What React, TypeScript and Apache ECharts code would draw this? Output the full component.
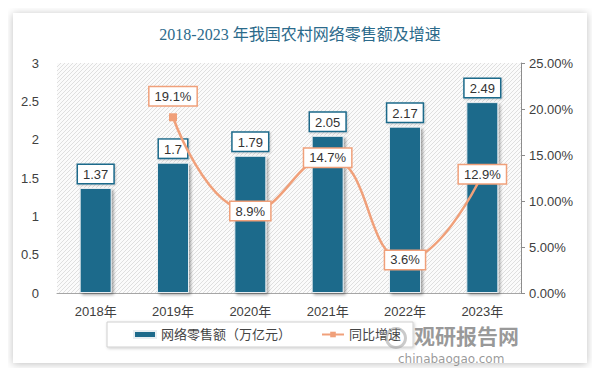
import React, { useEffect, useRef } from "react";
import * as echarts from "echarts";

const categories = ["2018年", "2019年", "2020年", "2021年", "2022年", "2023年"];
const salesValues = [1.37, 1.7, 1.79, 2.05, 2.17, 2.49];
const growthValues: (number | null)[] = [null, 19.1, 8.9, 14.7, 3.6, 12.9];
const leftTicks = { min: 0, max: 3, interval: 0.5 };
const rightTicks = { min: 0, max: 25, interval: 5 };

const BAR = "#1d6a8b";
const LINE = "#f0a07a";
const FONT = "'Liberation Sans', 'Noto Sans CJK SC', sans-serif";

const hatch =
  "data:image/svg+xml;charset=utf-8," +
  encodeURIComponent(
    "<svg xmlns='http://www.w3.org/2000/svg' width='4' height='4'><rect width='4' height='4' fill='#fbfbfb'/><path d='M-1,1 l2,-2 M0,4 l4,-4 M3,5 l2,-2' stroke='#d8d8d8' stroke-width='0.8'/></svg>"
  );

export default function App() {
  const ref = useRef<HTMLDivElement>(null);
  useEffect(() => {
    if (!ref.current) return;
    const chart = echarts.init(ref.current, undefined, { renderer: "svg" });
    const img = new Image();
    img.src = hatch;
    chart.setOption({
      animation: false,
      backgroundColor: "#ffffff",
      graphic: [
        {
          type: "rect",
          z: -10,
          shape: { x: 13, y: 13, width: 574, height: 350 },
          style: {
            fill: "#ffffff",
            shadowColor: "rgba(0,0,0,0.25)",
            shadowBlur: 8,
            shadowOffsetX: 0,
            shadowOffsetY: 1,
          },
        },
        {
          type: "rect",
          z: -5,
          shape: { x: 57, y: 63, width: 464, height: 230 },
          style: { fill: { image: img, repeat: "repeat" } as any },
        },
        {
          type: "text",
          left: 414,
          top: 324,
          z: 10,
          style: {
            text: "观研报告网",
            fill: "rgba(120,120,120,0.75)",
            font: "bold 21px 'Noto Sans CJK SC', sans-serif",
          },
        },
        {
          type: "text",
          left: 398,
          top: 353,
          z: 10,
          style: {
            text: "chinabaogao.com",
            fill: "rgba(120,120,120,0.75)",
            font: "12px 'DejaVu Sans', sans-serif",
          },
        },
        {
          type: "ring",
          z: 10,
          shape: { cx: 396, cy: 338, r: 11, r0: 8 },
          style: { fill: "rgba(150,150,150,0.5)" },
        },
      ],
      title: {
        text: "2018-2023 年我国农村网络零售额及增速",
        left: "center",
        top: 21,
        textStyle: {
          color: "#2b6a8b",
          fontSize: 16,
          fontWeight: "normal",
          fontFamily: "'Liberation Serif', 'Noto Sans CJK SC', serif",
        },
      },
      grid: { left: 57, right: 79, top: 63, bottom: 83 },
      legend: {
        left: 107,
        top: 322,
        padding: [6, 12, 6, 26],
        borderColor: "#d0d0d0",
        borderWidth: 1,
        backgroundColor: "#fff",
        shadowColor: "rgba(0,0,0,0.2)",
        shadowBlur: 3,
        shadowOffsetX: 1,
        shadowOffsetY: 1,
        itemGap: 30,
        textStyle: { fontSize: 13, color: "#444", fontFamily: FONT },
        data: [
          { name: "网络零售额（万亿元）", icon: "rect", itemStyle: { color: BAR } },
          { name: "同比增速" },
        ],
        itemWidth: 22,
        itemHeight: 7,
      },
      xAxis: {
        type: "category",
        data: categories,
        axisLine: { lineStyle: { color: "#a6a6a6" } },
        axisTick: { show: false },
        axisLabel: { fontSize: 13, color: "#404040", fontFamily: FONT, margin: 12 },
      },
      yAxis: [
        {
          type: "value",
          min: leftTicks.min,
          max: leftTicks.max,
          interval: leftTicks.interval,
          splitLine: { show: false },
          axisLine: { show: false },
          axisTick: { show: false },
          axisLabel: { fontSize: 13, color: "#404040", fontFamily: FONT, margin: 18 },
        },
        {
          type: "value",
          min: rightTicks.min,
          max: rightTicks.max,
          interval: rightTicks.interval,
          splitLine: { show: false },
          axisLine: { show: true, lineStyle: { color: "#8c8c8c" } },
          axisTick: { show: true, length: 4, lineStyle: { color: "#8c8c8c" } },
          axisLabel: {
            fontSize: 13,
            color: "#404040",
            fontFamily: FONT,
            margin: 8,
            formatter: (v: number) => v.toFixed(2) + "%",
          },
        },
      ],
      series: [
        {
          name: "网络零售额（万亿元）",
          type: "bar",
          yAxisIndex: 0,
          data: salesValues,
          barWidth: 32,
          itemStyle: {
            color: BAR,
            borderColor: "#e8eef2",
            borderWidth: 1,
            shadowColor: "rgba(0,0,0,0.35)",
            shadowBlur: 3,
            shadowOffsetX: 2,
            shadowOffsetY: 2,
          },
          label: {
            show: true,
            position: "top",
            distance: 5,
            fontSize: 13,
            color: "#333",
            fontFamily: FONT,
            backgroundColor: "#fff",
            borderColor: BAR,
            borderWidth: 1.5,
            padding: [3, 5, 2, 5],
            shadowColor: "rgba(0,0,0,0.2)",
            shadowBlur: 2,
            shadowOffsetX: 1,
            shadowOffsetY: 1,
          },
        },
        {
          name: "同比增速",
          type: "line",
          yAxisIndex: 1,
          smooth: true,
          connectNulls: false,
          data: growthValues.map((v, i) =>
            v === null
              ? null
              : {
                  value: v,
                  label: i === 1 ? { position: "top", distance: 8 } : { position: "inside" },
                }
          ),
          symbol: "rect",
          symbolSize: 8,
          lineStyle: { color: LINE, width: 2.5 },
          itemStyle: { color: LINE },
          label: {
            show: true,
            fontSize: 13,
            color: "#333",
            fontFamily: FONT,
            backgroundColor: "#fff",
            borderColor: LINE,
            borderWidth: 1.5,
            padding: [3, 5, 2, 5],
            formatter: (p: any) => p.value + "%",
          },
        },
      ],
    });
    return () => chart.dispose();
  }, []);
  return <div ref={ref} style={{ width: 600, height: 376, margin: -8 }} />;
}
